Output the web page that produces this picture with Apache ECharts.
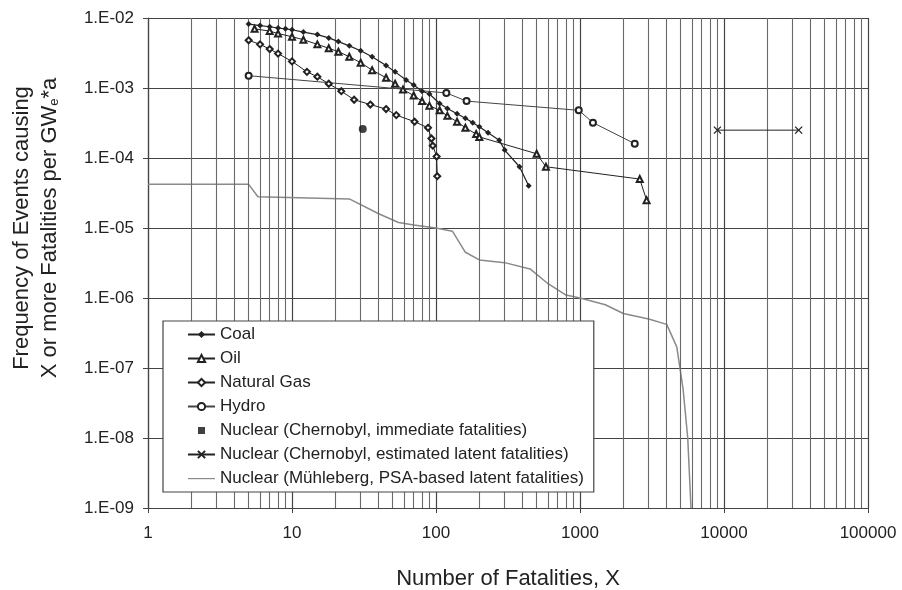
<!DOCTYPE html>
<html><head><meta charset="utf-8">
<script src="https://cdn.jsdelivr.net/npm/echarts@6/dist/echarts.min.js"></script>
<style>html,body{margin:0;padding:0;background:#fff}#c{width:902px;height:590px}</style>
</head><body><div id="c"></div>
<script>
// ---- data ----
const coalX = [5,6,7,8,9,10,12,15,18,21,25,30,36,45,52,62,70,80,90,106,120,140,160,180,200,230,275,300,380,440];
const coalY = [8.2e-3,7.8e-3,7.5e-3,7.2e-3,7.0e-3,6.8e-3,6.3e-3,5.8e-3,5.2e-3,4.6e-3,4.0e-3,3.4e-3,2.8e-3,2.1e-3,1.7e-3,1.3e-3,1.1e-3,9.0e-4,8.2e-4,6.0e-4,5.1e-4,4.3e-4,3.7e-4,3.2e-4,2.8e-4,2.3e-4,1.8e-4,1.3e-4,7.5e-5,4.0e-5];
const oilX = [5.5,7,8,10,12,15,18,21,25,30,36,45,52,59,70,80,90,106,120,140,160,190,200,500,580,2600,2900];
const oilY = [7.0e-3,6.5e-3,6.0e-3,5.4e-3,4.9e-3,4.2e-3,3.7e-3,3.3e-3,2.8e-3,2.3e-3,1.8e-3,1.4e-3,1.15e-3,9.5e-4,7.8e-4,6.5e-4,5.6e-4,4.8e-4,4.0e-4,3.3e-4,2.7e-4,2.2e-4,2.0e-4,1.15e-4,7.5e-5,5.0e-5,2.5e-5];
const gasX = [5,6,7,8,10,12.7,15,18,22,27,35,45,53,71,88,93,95,101,102];
const gasY = [4.8e-3,4.2e-3,3.6e-3,3.1e-3,2.4e-3,1.7e-3,1.45e-3,1.15e-3,9.0e-4,6.8e-4,5.8e-4,5.0e-4,4.1e-4,3.3e-4,2.7e-4,1.9e-4,1.5e-4,1.05e-4,5.5e-5];
const hydroX = [5,118,163,980,1230,2400];
const hydroY = [1.5e-3,8.5e-4,6.5e-4,4.8e-4,3.2e-4,1.6e-4];
const chernImmX = [31];
const chernImmY = [2.6e-4];
const chernLatX = [9000,33000];
const chernLatY = [2.5e-4,2.5e-4];
const muhX = [1,5,5.8,25,40,55,70,100,130,160,200,300,450,600,800,1000,1500,2000,3000,4000,4700,5200,5600,5900];
const muhY = [4.2e-5,4.2e-5,2.8e-5,2.6e-5,1.6e-5,1.2e-5,1.1e-5,1.0e-5,9e-6,4.5e-6,3.5e-6,3.2e-6,2.6e-6,1.6e-6,1.1e-6,1.0e-6,8e-7,6e-7,5e-7,4.2e-7,2e-7,5e-8,1e-8,1e-9];
const seriesNames = ['Coal','Oil','Natural Gas','Hydro','Nuclear (Chernobyl, immediate fatalities)','Nuclear (Chernobyl, estimated latent fatalities)','Nuclear (Mühleberg, PSA-based latent fatalities)'];
const xTicks = [1,10,100,1000,10000,100000];
const yMin = 1e-9, yMax = 1e-2;

// minor vertical grid positions (2..9 of each decade)
const minorX = [];
for (let d = 0; d < 5; d++) for (let k = 2; k <= 9; k++) minorX.push(k * Math.pow(10, d));

const zip = (a, b) => a.map((v, i) => [v, b[i]]);
const ink = '#222';
const font = 'Liberation Sans, Arial, sans-serif';

const legendData = seriesNames.map((n, i) => {
  if (i === 4) return {name: n, icon: 'path://M0,0L0,0M10,1L17,1L17,8L10,8ZM27,9L27,9'};
  if (i === 6) return {name: n, icon: 'path://M0,0L0,0M0,4L27,4L27,5.2L0,5.2ZM27,9L27,9'};
  return {name: n};
});

const chart = echarts.init(document.getElementById('c'), null, {renderer: 'canvas'});
chart.setOption({
  animation: false,
  backgroundColor: '#fff',
  grid: {left: 148, right: 34, top: 18, bottom: 82, show: false, containLabel: false, outerBoundsMode: 'none'},
  xAxis: {
    type: 'log', logBase: 10, min: xTicks[0], max: xTicks[xTicks.length - 1],
    axisLine: {show: true, onZero: false, lineStyle: {color: '#444', width: 1.2}},
    axisTick: {show: true, length: 5, lineStyle: {color: '#444'}},
    axisLabel: {color: ink, fontSize: 17, fontFamily: font, margin: 17, formatter: v => String(Math.round(v))},
    splitLine: {show: true, lineStyle: {color: '#444', width: 1.2}},
    name: 'Number of Fatalities, X', nameLocation: 'middle', nameGap: 60,
    nameTextStyle: {color: ink, fontSize: 22, fontFamily: font}
  },
  yAxis: {
    type: 'log', logBase: 10, min: yMin, max: yMax,
    axisLine: {show: true, onZero: false, lineStyle: {color: '#444', width: 1.2}},
    axisTick: {show: true, length: 5, lineStyle: {color: '#444'}},
    axisLabel: {color: ink, fontSize: 17, fontFamily: font, margin: 14,
      formatter: v => '1.E-' + String(-Math.round(Math.log10(v))).padStart(2, '0')},
    splitLine: {show: true, lineStyle: {color: '#444', width: 1.2}}
  },
  graphic: [{
    type: 'text', x: 36, y: 228, rotation: Math.PI / 2,
    style: {
      text: 'Frequency of Events causing\nX or more Fatalities per GW{s|e}*a',
      rich: {s: {fontSize: 13, fontFamily: font, fill: ink, padding: [9, 0, 0, 0]}},
      font: '22px ' + font, fill: ink, align: 'center', verticalAlign: 'middle', lineHeight: 28
    }
  }],
  legend: {
    data: legendData, orient: 'vertical', left: 163, top: 321, z: 100,
    backgroundColor: '#fff', borderColor: '#444', borderWidth: 1.2,
    padding: [5, 10, 5, 24], itemGap: 7, itemWidth: 27, itemHeight: 9,
    textStyle: {color: ink, fontSize: 17, fontFamily: font, lineHeight: 15},
    width: 420
  },
  series: [
    {type: 'line', name: 'grid', data: [], silent: true,
     markLine: {silent: true, symbol: ['none', 'none'], label: {show: false},
       lineStyle: {color: '#6a6a6a', type: 'solid', width: 1.1},
       data: minorX.map(v => ({xAxis: v}))}},
    {type: 'line', name: seriesNames[6], data: zip(muhX, muhY), showSymbol: false, symbol: 'none',
     lineStyle: {color: '#8a8a8a', width: 1.5}, itemStyle: {color: '#8a8a8a'}, z: 3},
    {type: 'line', name: seriesNames[0], data: zip(coalX, coalY), symbol: 'diamond', symbolSize: 6,
     lineStyle: {color: ink, width: 1.2}, itemStyle: {color: ink}, z: 5},
    {type: 'line', name: seriesNames[1], data: zip(oilX, oilY), symbol: 'emptyTriangle', symbolSize: 6,
     lineStyle: {color: ink, width: 1}, itemStyle: {color: ink, borderColor: ink, borderWidth: 1}, z: 5},
    {type: 'line', name: seriesNames[2], data: zip(gasX, gasY), symbol: 'emptyDiamond', symbolSize: 6,
     lineStyle: {color: ink, width: 1}, itemStyle: {color: ink, borderColor: ink, borderWidth: 1}, z: 5},
    {type: 'line', name: seriesNames[3], data: zip(hydroX, hydroY), symbol: 'emptyCircle', symbolSize: 6,
     lineStyle: {color: '#444', width: 1}, itemStyle: {color: ink, borderColor: ink, borderWidth: 1}, z: 5},
    {type: 'scatter', name: seriesNames[4], data: zip(chernImmX, chernImmY), symbol: 'circle', symbolSize: 8,
     itemStyle: {color: '#111'}, z: 5},
    {type: 'line', name: seriesNames[5], data: zip(chernLatX, chernLatY),
     symbol: 'path://M0,0L10,10M10,0L0,10', symbolSize: 7,
     lineStyle: {color: ink, width: 1}, itemStyle: {color: ink, borderColor: ink, borderWidth: 1.3}, z: 5}
  ]
});
</script></body></html>
